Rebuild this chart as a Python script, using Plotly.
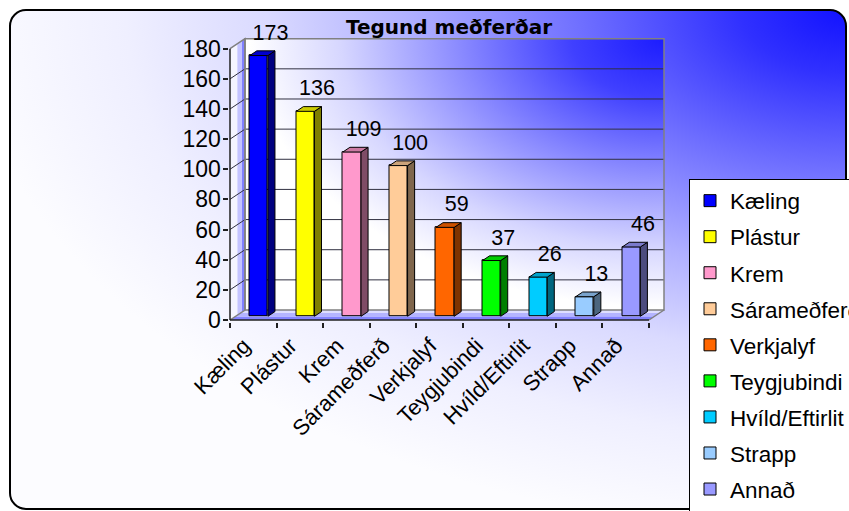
import base64
import plotly.graph_objects as go

# ---------------- data ----------------
categories = ["Kæling", "Plástur", "Krem", "Sárameðferð", "Verkjalyf",
              "Teygjubindi", "Hvíld/Eftirlit", "Strapp", "Annað"]
values = [173, 136, 109, 100, 59, 37, 26, 13, 46]
bar_colors = ["#0000ff", "#ffff00", "#ff99cc", "#ffcc99", "#ff6600",
              "#00ff00", "#00ccff", "#99ccff", "#9999ff"]
y_tick_values = [0, 20, 40, 60, 80, 100, 120, 140, 160, 180]
chart_title = "Tegund meðferðar"

# ---------------- geometry (pixels) ----------------
# The figure is larger than the window so the legend can run off the edges
W, H = 900, 560
FX0, FX1 = 230.0, 649.0          # front axis: x=-0.5 .. x=8.5
FY0, FY1 = 320.0, 48.7           # front axis: y=0 .. y=180
DEP_X, DEP_Y = 15.0, 10.0        # 3D depth offset
PAD = 1.5
n = len(categories)
YMAX = y_tick_values[-1]

kx = (FX1 - FX0) / n
ky = (FY0 - FY1) / YMAX
DX = DEP_X / kx
DY = DEP_Y / ky

x_lo = -0.5 - PAD / kx
x_hi = n - 0.5 + DX + PAD / kx
y_lo = -PAD / ky
y_hi = YMAX + DY + PAD / ky
x_dom = [(FX0 - PAD) / W, (FX1 + DEP_X + PAD) / W]
y_dom = [1 - (FY0 + PAD) / H, 1 - (FY1 - DEP_Y - PAD) / H]

A, B = 0.37, 0.84   # bar front / back depth fractions
BW = 0.39           # bar width in category units


def shade(hx, f):
    hx = hx.lstrip("#")
    r, g, b = (int(hx[i:i + 2], 16) for i in (0, 2, 4))
    return "#%02x%02x%02x" % (int(r * f), int(g * f), int(b * f))


def svg_uri(svg):
    return "data:image/svg+xml;base64," + base64.b64encode(svg.encode()).decode()


bg_svg = f'''<svg xmlns="http://www.w3.org/2000/svg" width="{W}" height="{H}" viewBox="0 0 {W} {H}">
<defs><radialGradient id="g" cx="1" cy="0" r="1.05" gradientUnits="objectBoundingBox">
<stop offset="0" stop-color="#1212ff"/>
<stop offset="0.12" stop-color="#3030ff"/>
<stop offset="0.3" stop-color="#6e6eff"/>
<stop offset="0.5" stop-color="#b0b0ff"/>
<stop offset="0.66" stop-color="#dadaff"/>
<stop offset="0.82" stop-color="#efefff"/>
<stop offset="1" stop-color="#fcfcff"/>
</radialGradient></defs>
<rect x="10" y="10" width="836" height="499" rx="16" ry="16" fill="url(#g)" stroke="#000" stroke-width="2"/>
</svg>'''

wall_svg = '''<svg xmlns="http://www.w3.org/2000/svg" width="400" height="270" viewBox="0 0 400 270" preserveAspectRatio="none">
<defs><radialGradient id="w" cx="1" cy="0" r="1.1" gradientUnits="objectBoundingBox">
<stop offset="0" stop-color="#1c1cff"/>
<stop offset="0.2" stop-color="#4040ff"/>
<stop offset="0.45" stop-color="#8c8cff"/>
<stop offset="0.7" stop-color="#d6d6ff"/>
<stop offset="0.9" stop-color="#ffffff"/>
<stop offset="1" stop-color="#ffffff"/>
</radialGradient></defs>
<rect x="0" y="0" width="400" height="270" fill="url(#w)"/>
</svg>'''

fig = go.Figure()

# ---- bars (front faces) ----
for i, (cat, v, c) in enumerate(zip(categories, values, bar_colors)):
    fig.add_trace(go.Bar(
        x=[i + A * DX], y=[v], base=[A * DY], width=BW, name=cat,
        legendgroup=cat,
        marker=dict(color=c, line=dict(color="black", width=1)),
        hoverinfo="skip"))

# ---- side and top faces ----
for i, (v, c) in enumerate(zip(values, bar_colors)):
    l_a = i - BW / 2 + A * DX
    r_a = i + BW / 2 + A * DX
    l_b = i - BW / 2 + B * DX
    r_b = i + BW / 2 + B * DX
    fig.add_trace(go.Scatter(
        x=[r_a, r_b, r_b, r_a, r_a],
        y=[A * DY, B * DY, v + B * DY, v + A * DY, A * DY],
        mode="lines", fill="toself", fillcolor=shade(c, 0.5),
        line=dict(color="black", width=1), showlegend=False, hoverinfo="skip"))
    fig.add_trace(go.Scatter(
        x=[l_a, r_a, r_b, l_b, l_a],
        y=[v + A * DY, v + A * DY, v + B * DY, v + B * DY, v + A * DY],
        mode="lines", fill="toself", fillcolor=shade(c, 0.8),
        line=dict(color="black", width=1), showlegend=False, hoverinfo="skip"))

# ---- data labels ----
fig.add_trace(go.Scatter(
    x=[i + A * DX + 0.25 for i in range(n)],
    y=[v + A * DY + 7 for v in values],
    text=[str(v) for v in values], mode="text", textposition="top center",
    textfont=dict(size=21.5, color="black"), xaxis="x2", showlegend=False,
    hoverinfo="skip", cliponaxis=False))

# ---- walls, floor, gridlines as shapes ----
shapes = []
GRAY = "#808080"
left_bands = [(0.0, 0.5, "#f4f4ff"), (0.5, 0.8, "#c4c4ff"), (0.8, 1.0, "#8080ff")]
for f0, f1, col in left_bands:
    x0, x1 = -0.5 + f0 * DX, -0.5 + f1 * DX
    shapes.append(dict(type="path", xref="x", yref="y", layer="between",
                       path=f"M{x0},{f0*DY} L{x1},{f1*DY} L{x1},{YMAX+f1*DY} L{x0},{YMAX+f0*DY} Z",
                       fillcolor=col, line=dict(width=0)))
floor_bands = [(0.0, 0.35, "#8484ff"), (0.35, 0.7, "#b4b4ff"), (0.7, 1.0, "#dedeff")]
for f0, f1, col in floor_bands:
    shapes.append(dict(type="path", xref="x", yref="y", layer="between",
                       path=(f"M{-0.5+f0*DX},{f0*DY} L{n-0.5+f0*DX},{f0*DY} "
                             f"L{n-0.5+f1*DX},{f1*DY} L{-0.5+f1*DX},{f1*DY} Z"),
                       fillcolor=col, line=dict(width=0)))
for t in y_tick_values[1:-1]:
    shapes.append(dict(type="path", xref="x", yref="y", layer="between",
                       path=f"M-0.5,{t} L{-0.5+DX},{t+DY} L{n-0.5+DX},{t+DY}",
                       line=dict(color="#303040", width=1)))
shapes.append(dict(type="rect", xref="x", yref="y", layer="between",
                   x0=-0.5 + DX, x1=n - 0.5 + DX, y0=DY, y1=YMAX + DY,
                   line=dict(color=GRAY, width=1.5)))
shapes.append(dict(type="path", xref="x", yref="y", layer="between",
                   path=f"M-0.5,{YMAX} L{-0.5+DX},{YMAX+DY} L{-0.5+DX},{DY} L-0.5,0",
                   line=dict(color=GRAY, width=1.5)))
shapes.append(dict(type="path", xref="x", yref="y", layer="between",
                   path=f"M{n-0.5},0 L{n-0.5+DX},{DY}",
                   line=dict(color=GRAY, width=1.5)))
shapes.append(dict(type="line", xref="x", yref="y", layer="between",
                   x0=-0.5, x1=-0.5, y0=0, y1=YMAX, line=dict(color="#202020", width=1.5)))
shapes.append(dict(type="line", xref="x", yref="y", layer="between",
                   x0=-0.5, x1=n - 0.5, y0=0, y1=0, line=dict(color="#202020", width=1.5)))

fig.update_layout(
    width=W, height=H, autosize=False,
    margin=dict(l=0, r=0, t=0, b=0),
    paper_bgcolor="white", plot_bgcolor="rgba(0,0,0,0)",
    font=dict(family="Liberation Sans, Arial, sans-serif", color="black", size=21),
    barmode="overlay", bargap=0,
    title=dict(text=chart_title, x=449 / W, xanchor="center", y=1 - 27 / H, yanchor="middle",
               xref="paper", yref="paper",
               font=dict(family="DejaVu Sans", size=20, color="black", weight="bold")),
    xaxis=dict(domain=x_dom, range=[x_lo, x_hi], tickvals=[k - 0.5 for k in range(n + 1)],
               ticks="outside", ticklen=5, tickcolor="#202020", tickwidth=1.5,
               showticklabels=False, showgrid=False, zeroline=False, showline=False,
               fixedrange=True, automargin=False),
    xaxis2=dict(overlaying="x", anchor="y", side="bottom", range=[x_lo, x_hi],
                tickvals=[k - 0.2 for k in range(n)], ticktext=categories, tickangle=-45,
                ticks="", tickfont=dict(size=22), ticklabelstandoff=6,
                showgrid=False, zeroline=False,
                showline=False, fixedrange=True, automargin=False),
    yaxis=dict(domain=y_dom, range=[y_lo, y_hi], tickvals=y_tick_values,
               ticks="outside", ticklen=5, tickcolor="#202020", tickwidth=1.5,
               tickfont=dict(size=23), ticklabelstandoff=-3,
               showgrid=False, zeroline=False, showline=False,
               fixedrange=True, automargin=False),
    legend=dict(x=689 / W, y=1 - 178.5 / H, xanchor="left", yanchor="top",
                bgcolor="white", bordercolor="black", borderwidth=1,
                font=dict(size=22.5), tracegroupgap=3.8, traceorder="grouped"),
    images=[
        dict(source=svg_uri(bg_svg), xref="paper", yref="paper", x=0, y=1,
             sizex=1, sizey=1, xanchor="left", yanchor="top", sizing="stretch", layer="below"),
        dict(source=svg_uri(wall_svg), xref="x", yref="y", x=-0.5 + DX, y=YMAX + DY,
             sizex=n, sizey=YMAX, xanchor="left", yanchor="top", sizing="stretch", layer="below"),
    ],
    shapes=shapes,
    showlegend=True,
)

fig.write_html(
    "out.html",
    config={"displayModeBar": False},
    post_script="document.body.style.margin='0';document.body.style.overflow='hidden';"
                "document.documentElement.style.overflow='hidden';")
